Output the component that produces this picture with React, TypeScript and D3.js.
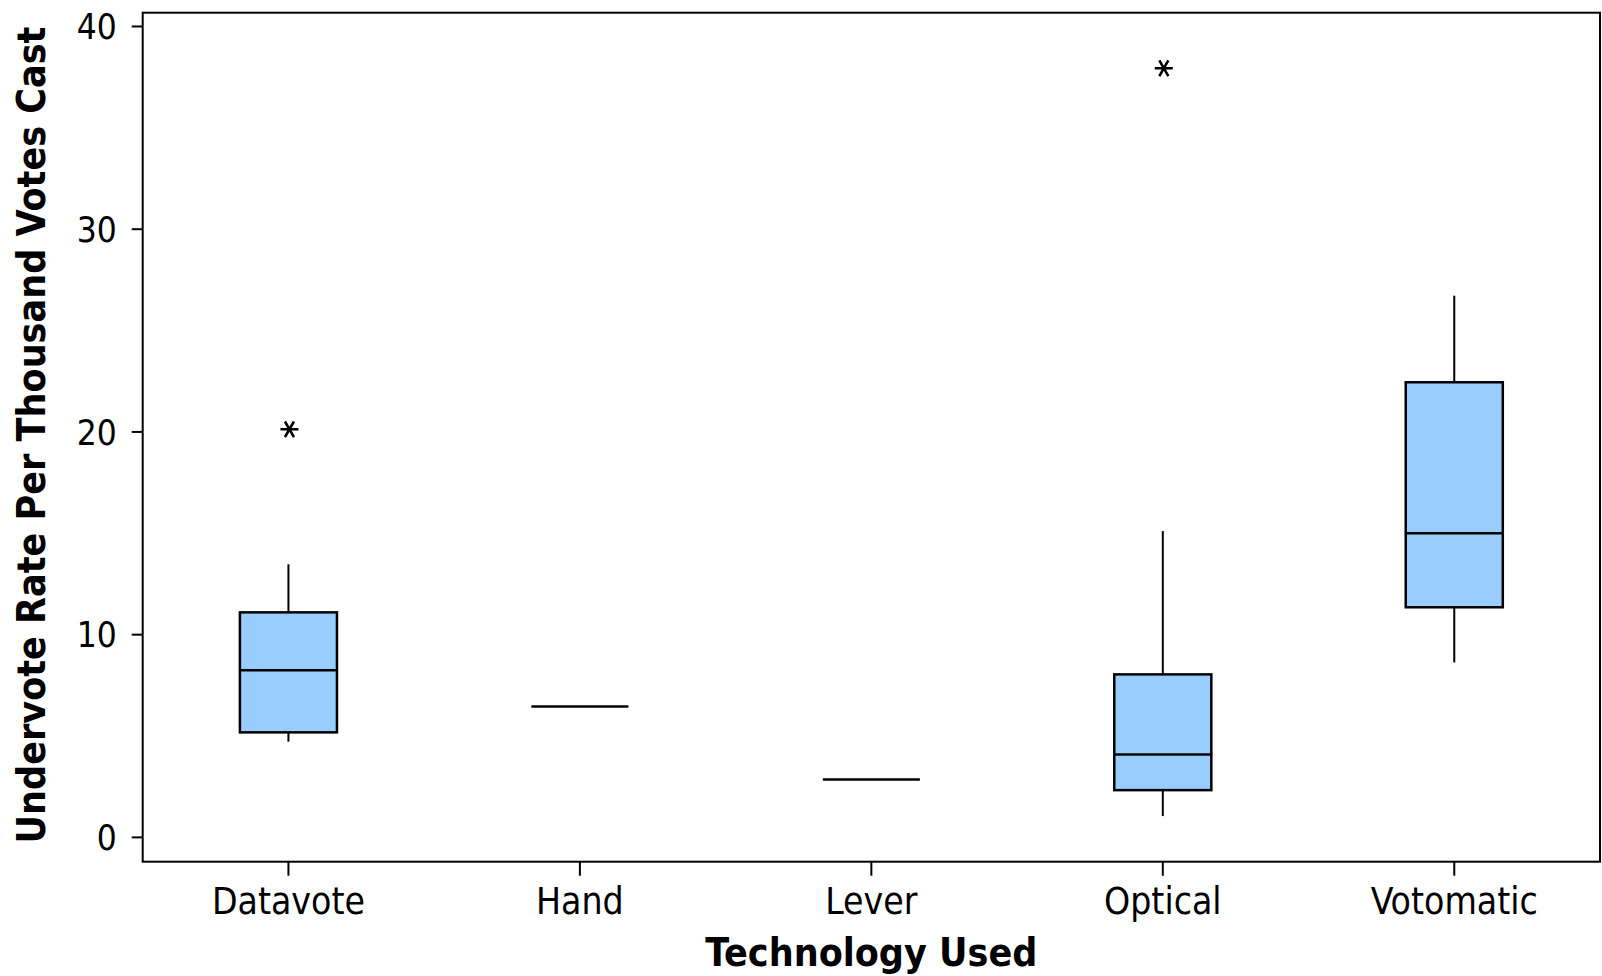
import React from "react";
import * as d3 from "d3";

const categories = ["Datavote", "Hand", "Lever", "Optical", "Votomatic"];
const whiskerLow = [4.72, 6.45, 2.85, 1.05, 8.63];
const q1 = [5.18, 6.45, 2.85, 2.33, 11.35];
const median = [8.25, 6.45, 2.85, 4.09, 15.0];
const q3 = [11.1, 6.45, 2.85, 8.04, 22.45];
const whiskerHigh = [13.47, 6.45, 2.85, 15.11, 26.72];
const outlierCategory = ["Datavote", "Optical"];
const outlierValue = [20.13, 37.94];
const yTicks = [0, 10, 20, 30, 40];

const W = 1602;
const H = 976;
const left = 142.7;
const right = 1600;
const top = 12.7;
const bottom = 861.7;
const FONT = "'DejaVu Sans Condensed', 'DejaVu Sans', sans-serif";

export default function App() {
  const x = d3.scaleBand<string>().domain(categories).range([left, right]).padding(0);
  const y = d3.scaleLinear().domain([-1.2, 40.68]).range([bottom, top]);
  const boxW = x.bandwidth() * 0.333;
  const cx = (c: string) => (x(c) as number) + x.bandwidth() / 2;

  const star = (px: number, py: number, r: number) => {
    const arms = [0, 60, 120].map((deg) => {
      const a = (deg * Math.PI) / 180;
      return `M${px - r * Math.cos(a)},${py - r * Math.sin(a)}L${px + r * Math.cos(a)},${py + r * Math.sin(a)}`;
    });
    return arms.join("");
  };

  return (
    <svg
      width={W}
      height={H}
      style={{ position: "absolute", left: 0, top: 0, background: "#fff" }}
      fontFamily={FONT}
    >
      <rect x={0} y={0} width={W} height={H} fill="#fff" />
      {categories.map((c, i) => {
        const xc = cx(c);
        return (
          <g key={c}>
            {whiskerHigh[i] > q3[i] && (
              <line x1={xc} x2={xc} y1={y(q3[i])} y2={y(whiskerHigh[i])} stroke="#000" strokeWidth={2} />
            )}
            {whiskerLow[i] < q1[i] && (
              <line x1={xc} x2={xc} y1={y(q1[i])} y2={y(whiskerLow[i])} stroke="#000" strokeWidth={2} />
            )}
            {q3[i] > q1[i] && (
              <rect
                x={xc - boxW / 2}
                y={y(q3[i])}
                width={boxW}
                height={y(q1[i]) - y(q3[i])}
                fill="#99CCFF"
                stroke="#000"
                strokeWidth={2.5}
              />
            )}
            <line
              x1={xc - boxW / 2}
              x2={xc + boxW / 2}
              y1={y(median[i])}
              y2={y(median[i])}
              stroke="#000"
              strokeWidth={2.5}
            />
          </g>
        );
      })}
      {outlierCategory.map((c, i) => (
        <path key={"o" + i} d={star(cx(c) + 1, y(outlierValue[i]), 9)} stroke="#000" strokeWidth={2.6} fill="none" />
      ))}
      <rect x={left} y={top} width={right - left} height={bottom - top} fill="none" stroke="#000" strokeWidth={2} />
      {yTicks.map((t) => (
        <g key={"y" + t}>
          <line x1={left - 11} x2={left} y1={y(t)} y2={y(t)} stroke="#000" strokeWidth={2} />
          <text x={116.7} y={y(t)} dy="0.36em" textAnchor="end" fontSize={35} fontStretch="condensed" fill="#000">
            {t}
          </text>
        </g>
      ))}
      {categories.map((c) => (
        <g key={"x" + c}>
          <line x1={cx(c)} x2={cx(c)} y1={bottom} y2={bottom + 14} stroke="#000" strokeWidth={2} />
          <text x={cx(c)} y={914} textAnchor="middle" fontSize={37} fontStretch="condensed" fill="#000">
            {c}
          </text>
        </g>
      ))}
      <text
        x={(left + right) / 2}
        y={966}
        textAnchor="middle"
        fontSize={39}
        fontWeight="bold"
        fontStretch="condensed"
        fill="#000"
      >
        Technology Used
      </text>
      <text
        transform={`translate(45, ${435}) rotate(-90)`}
        textAnchor="middle"
        fontSize={39}
        fontWeight="bold"
        fontStretch="condensed"
        fill="#000"
      >
        Undervote Rate Per Thousand Votes Cast
      </text>
    </svg>
  );
}
